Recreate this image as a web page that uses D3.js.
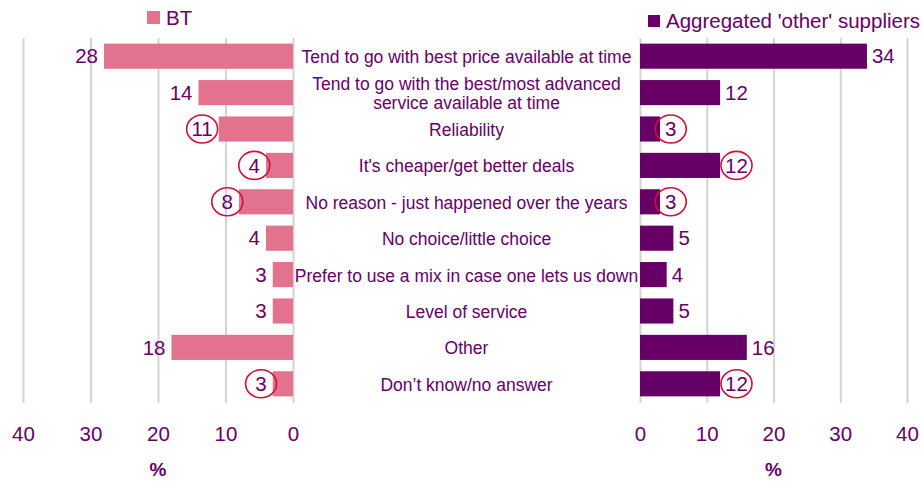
<!DOCTYPE html>
<html>
<head>
<meta charset="utf-8">
<script src="https://cdn.jsdelivr.net/npm/d3@7"></script>
<style>
  body { margin: 0; background: #fff; }
  svg { display: block; font-family: Arial, "Liberation Sans", sans-serif; }
</style>
</head>
<body>
<svg id="chart" width="921" height="481"></svg>
<script>
// categories, top to bottom
const categories = [
    "Tend to go with best price available at time",
    "Tend to go with the best/most advanced|service available at time",
    "Reliability",
    "It's cheaper/get better deals",
    "No reason - just happened over the years",
    "No choice/little choice",
    "Prefer to use a mix in case one lets us down",
    "Level of service",
    "Other",
    "Don\u2019t know/no answer"
];
const btValues = [28, 14, 11, 4, 8, 4, 3, 3, 18, 3];
const otherValues = [34, 12, 3, 12, 3, 5, 4, 5, 16, 12];
// which value labels are ringed in the picture
const btCircled = [false, false, true, true, true, false, false, false, false, true];
const otherCircled = [false, false, true, true, true, false, false, false, false, true];
const tickValues = [0, 10, 20, 30, 40];
const seriesNames = ["BT", "Aggregated 'other' suppliers"];

const pink = "#e2728e", purple = "#660066", textCol = "#660066", ring = "#d0103a";
const bigFont = "20.5px", catFont = "17.5px";

const svg = d3.select("#chart");

const y = d3.scaleBand()
    .domain(d3.range(categories.length))
    .range([38, 402])
    .paddingInner(0.31)
    .paddingOuter(0.155);

const xL = d3.scaleLinear().domain([0, 40]).range([293, 23]);
const xR = d3.scaleLinear().domain([0, 40]).range([640, 907]);

// gridlines
[xL, xR].forEach(x => {
    svg.append("g")
        .attr("transform", "translate(0,403)")
        .call(d3.axisBottom(x).tickValues(tickValues).tickSize(-365).tickFormat(""))
        .call(g => g.select(".domain").remove())
        .call(g => g.selectAll("line").attr("stroke", "#d4d4d4").attr("stroke-width", 2));
});

// tick labels
[xL, xR].forEach(x => {
    svg.append("g")
        .attr("transform", "translate(0,441)")
        .call(d3.axisBottom(x).tickValues(tickValues).tickSize(0).tickPadding(0))
        .call(g => g.select(".domain").remove())
        .call(g => g.selectAll("text")
            .attr("fill", textCol)
            .attr("font-size", bigFont)
            .attr("font-family", "Arial, 'Liberation Sans', sans-serif")
            .attr("dy", 0));
});

// axis titles
svg.selectAll(".pct")
    .data([d3.mean(xL.range()), d3.mean(xR.range())])
    .join("text")
    .attr("x", d => d)
    .attr("y", 476)
    .attr("text-anchor", "middle")
    .attr("font-size", "19px")
    .attr("font-weight", "bold")
    .attr("fill", textCol)
    .text("%");

const bh = y.bandwidth();

// BT bars
svg.append("g").selectAll("rect")
    .data(btValues)
    .join("rect")
    .attr("x", d => xL(d))
    .attr("y", (d, i) => y(i))
    .attr("width", d => xL(0) - xL(d))
    .attr("height", bh)
    .attr("fill", pink);

// other suppliers bars
svg.append("g").selectAll("rect")
    .data(otherValues)
    .join("rect")
    .attr("x", xR(0))
    .attr("y", (d, i) => y(i))
    .attr("width", d => xR(d) - xR(0))
    .attr("height", bh)
    .attr("fill", purple);

// value labels
const btLabels = svg.append("g").selectAll("text")
    .data(btValues)
    .join("text")
    .attr("x", d => xL(d) - 6)
    .attr("y", (d, i) => y(i) + bh / 2)
    .attr("dy", "0.35em")
    .attr("text-anchor", "end")
    .attr("font-size", bigFont)
    .attr("fill", textCol)
    .text(d => d);

const otherLabels = svg.append("g").selectAll("text")
    .data(otherValues)
    .join("text")
    .attr("x", d => xR(d) + 5)
    .attr("y", (d, i) => y(i) + bh / 2)
    .attr("dy", "0.35em")
    .attr("text-anchor", "start")
    .attr("font-size", bigFont)
    .attr("fill", textCol)
    .text(d => d);

// red rings round the highlighted labels
function addRings(labels, flags) {
    labels.each(function(d, i) {
        if (!flags[i]) return;
        const b = this.getBBox();
        svg.append("ellipse")
            .attr("cx", b.x + b.width / 2)
            .attr("cy", y(i) + bh / 2)
            .attr("rx", Math.max(15.5, b.width / 2 + 4))
            .attr("ry", 14)
            .attr("fill", "none")
            .attr("stroke", ring)
            .attr("stroke-width", 1.6);
    });
}
addRings(btLabels, btCircled);
addRings(otherLabels, otherCircled);

// category labels in the middle (two-line ones split on "|")
const midX = (xL(0) + xR(0)) / 2;
svg.append("g").selectAll("text")
    .data(categories)
    .join("text")
    .attr("x", midX)
    .attr("y", (d, i) => y(i) + bh / 2)
    .attr("text-anchor", "middle")
    .attr("font-size", catFont)
    .attr("fill", textCol)
    .each(function(d) {
        const lines = d.split("|");
        const t = d3.select(this);
        lines.forEach((ln, k) => {
            t.append("tspan")
                .attr("x", midX)
                .attr("dy", k === 0 ? (0.4 - (lines.length - 1) * 0.56) + "em" : "1.12em")
                .text(ln);
        });
    });

// legend
const legend = [
    { name: seriesNames[0], color: pink, x: 147, y: 11, size: 13 },
    { name: seriesNames[1], color: purple, x: 648, y: 15, size: 12 }
];
legend.forEach(l => {
    svg.append("rect")
        .attr("x", l.x).attr("y", l.y)
        .attr("width", l.size).attr("height", l.size)
        .attr("fill", l.color);
    svg.append("text")
        .attr("x", l.x + l.size + 6)
        .attr("y", l.y + l.size + 1)
        .attr("font-size", bigFont)
        .attr("fill", textCol)
        .text(l.name);
});
</script>
</body>
</html>
